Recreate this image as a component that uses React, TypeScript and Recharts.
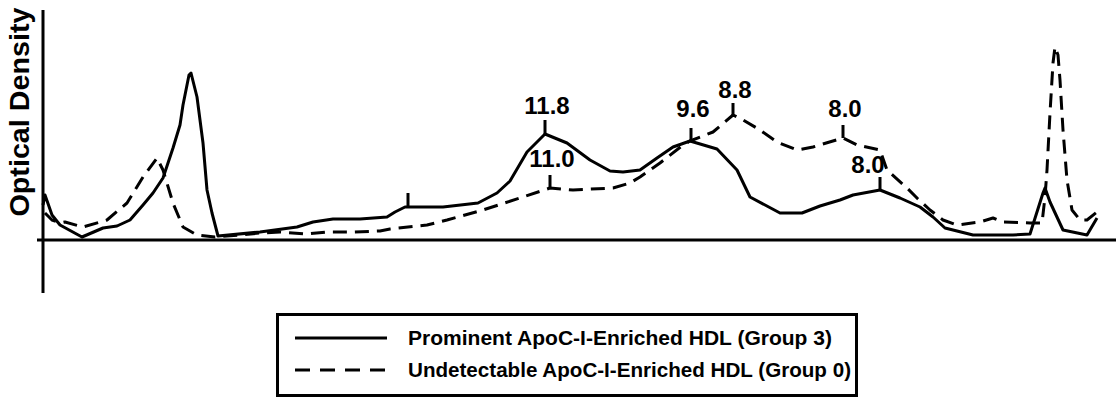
import { LineChart, Line, XAxis, YAxis, ReferenceLine, ReferenceDot } from "recharts";

// migration position (arbitrary units from the origin) and optical density (arbitrary units)
const prominentPos = [0, 2, 9, 17, 39, 60, 74, 87, 100, 110, 120, 130, 137, 140, 146, 148, 154, 160, 164, 169, 175, 217, 254, 270, 290, 317, 344, 352, 362, 400, 435, 454, 467, 484, 502, 524, 547, 567, 580, 597, 614, 630, 647, 674, 694, 707, 737, 759, 777, 797, 810, 837, 857, 877, 890, 902, 930, 970, 987, 1000, 1002, 1007, 1020, 1044, 1054];
const prominentOD = [35, 45, 25, 15, 3, 12, 14, 20, 35, 47, 62, 92, 115, 135, 165, 167, 143, 97, 50, 27, 4, 8, 13, 18, 21, 21, 23, 28, 33, 33, 37, 47, 59, 88, 106, 97, 80, 69, 68, 70, 82, 93, 99, 91, 70, 43, 27, 27, 34, 40, 45, 50, 42, 33, 23, 12, 5, 5, 6, 47, 52, 38, 10, 5, 22];

const undetectablePos = [2, 9, 17, 22, 40, 64, 84, 100, 114, 120, 130, 140, 154, 172, 197, 217, 237, 264, 284, 310, 337, 347, 384, 404, 440, 480, 507, 530, 570, 587, 597, 617, 640, 647, 670, 690, 700, 717, 734, 754, 770, 800, 814, 837, 844, 864, 874, 887, 900, 914, 937, 950, 960, 987, 999, 1002, 1004, 1007, 1010, 1012, 1015, 1017, 1020, 1024, 1029, 1037, 1044, 1054];
const undetectableOD = [27, 20, 17, 18, 13, 20, 37, 63, 82, 70, 37, 13, 5, 3, 5, 7, 8, 6, 8, 8, 9, 11, 15, 20, 30, 43, 52, 50, 52, 57, 63, 77, 95, 99, 108, 125, 120, 110, 98, 90, 93, 102, 95, 90, 70, 52, 42, 30, 20, 15, 18, 22, 18, 17, 17, 43, 70, 127, 177, 193, 185, 160, 110, 60, 30, 20, 20, 28];

// peak markers: position, density at the curve, top of tick, label baseline, label
const peakPos = [502, 507, 648, 690, 800, 837, 365];
const peakBase = [106, 52, 99, 125, 102, 50, 34];
const peakTop = [120, 65, 112, 137, 115, 63, 47];
const peakLabelOD = [126, 73, 123, 142, 123, 67, 0];
const peakLabels = ["11.8", "11.0", "9.6", "8.8", "8.0", "8.0", ""];

const legendNames = ["Prominent ApoC-I-Enriched HDL (Group 3)", "Undetectable ApoC-I-Enriched HDL (Group 0)"];

const prominent = prominentPos.map((x, i) => ({ x, od: prominentOD[i] }));
const undetectable = undetectablePos.map((x, i) => ({ x, od: undetectableOD[i] }));
const peaks = peakPos.map((x, i) => ({ x, base: peakBase[i], top: peakTop[i], labelOD: peakLabelOD[i], label: peakLabels[i] }));

const FONT = "'Liberation Sans', Arial, sans-serif";
const labelShift: Record<number, number> = { 5: -14 };

export default function App() {
  return (
    <div style={{ position: "absolute", left: 0, top: 0, width: 1116, height: 399, background: "#fff" }}>
      <LineChart width={1116} height={399} margin={{ top: 10, right: 0, bottom: 106, left: 37 }}>
        <XAxis type="number" dataKey="x" domain={[-6, 1073]} hide allowDataOverflow />
        <YAxis type="number" domain={[-53, 230]} hide allowDataOverflow />
        <ReferenceLine y={0} stroke="#000" strokeWidth={3} />
        <ReferenceLine x={0} stroke="#000" strokeWidth={3} />
        <Line data={prominent} dataKey="od" type="linear" stroke="#000" strokeWidth={3} dot={false} isAnimationActive={false} strokeLinejoin="round" />
        <Line data={undetectable} dataKey="od" type="linear" stroke="#000" strokeWidth={3} strokeDasharray="14 8" dot={false} isAnimationActive={false} strokeLinejoin="round" />
        {peaks.map((p, i) => (
          <ReferenceLine key={`t${i}`} segment={[{ x: p.x, y: p.base }, { x: p.x, y: p.top }]} stroke="#000" strokeWidth={3} />
        ))}
        {peaks.filter((p) => p.label).map((p, i) => (
          <ReferenceDot
            key={`l${i}`}
            x={p.x}
            y={p.labelOD}
            r={0}
            shape={(s: any) => (
              <text x={s.cx + 2 + (labelShift[i] ?? 0)} y={s.cy} textAnchor="middle" fontFamily={FONT} fontWeight="bold" fontSize={24} fill="#000">
                {p.label}
              </text>
            )}
          />
        ))}
      </LineChart>
      <svg width={1116} height={399} style={{ position: "absolute", left: 0, top: 0, pointerEvents: "none" }}>
        <text transform="rotate(-90)" x={-112} y={29} textAnchor="middle" fontFamily={FONT} fontWeight="bold" fontSize={27} textLength={209} lengthAdjust="spacingAndGlyphs">
          Optical Density
        </text>
        <rect x={277.5} y={314.5} width={579} height={81} fill="none" stroke="#000" strokeWidth={3} />
        <line x1={295} x2={387} y1={338} y2={338} stroke="#000" strokeWidth={3} />
        <line x1={295} x2={387} y1={370} y2={370} stroke="#000" strokeWidth={3} strokeDasharray="15 10" />
        <text x={408} y={345} fontFamily={FONT} fontWeight="bold" fontSize={20} textLength={424} lengthAdjust="spacingAndGlyphs">
          {legendNames[0]}
        </text>
        <text x={408} y={377} fontFamily={FONT} fontWeight="bold" fontSize={20} textLength={443} lengthAdjust="spacingAndGlyphs">
          {legendNames[1]}
        </text>
      </svg>
    </div>
  );
}
